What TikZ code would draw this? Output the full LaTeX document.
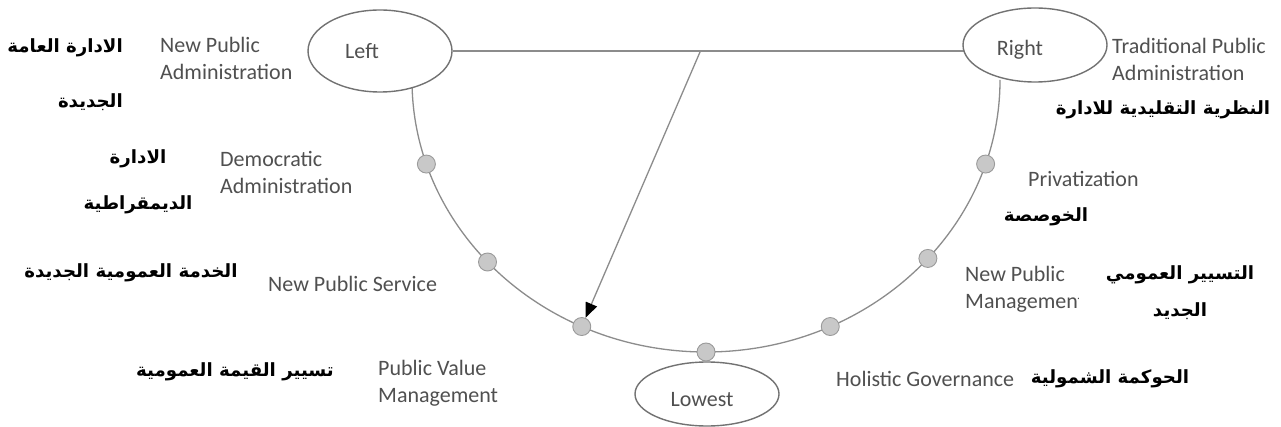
\documentclass[tikz,border=0pt]{standalone}
\usepackage{fontspec}
\setmainfont{Carlito}
\newfontfamily\arabicfont[Script=Arabic]{DejaVu Sans}
\TeXXeTstate=1
\usetikzlibrary{arrows.meta,calc,shapes.geometric,backgrounds}
\definecolor{linegray}{HTML}{8C8C8C}
\definecolor{edgegray}{HTML}{727272}
\definecolor{dotfill}{HTML}{C8C8C8}
\definecolor{dotedge}{HTML}{9A9A9A}
\definecolor{labelgray}{HTML}{505050}
\begin{document}
\begin{tikzpicture}[x=1pt,y=1pt,
  oval/.style={ellipse, draw=edgegray, line width=1.4pt, fill=white,
    minimum width=144pt, minimum height=#1, inner sep=0pt},
  ovaltext/.style={text=labelgray, font=\fontsize{22}{26}\selectfont},
  dot/.style={circle, draw=dotedge, fill=dotfill, line width=0.9pt,
    minimum size=18pt, inner sep=0pt},
  conn/.style={draw=linegray, line width=1.3pt},
  en/.style={text=labelgray, font=\fontsize{22}{27}\selectfont,
    align=left, inner sep=0pt, anchor=north west},
  ar/.style={text=black, inner sep=0pt},
  arfont/.style={font=\arabicfont\bfseries\fontsize{18.2}{#1}\selectfont},
]
\useasboundingbox (0,0) rectangle (1281,-427);

% the three poles
\node[oval=82pt, label={[ovaltext, xshift=-18pt]center:Left}] (L) at (380,-51) {};
\node[oval=74pt, label={[ovaltext, xshift=-15pt, yshift=-5pt]center:Right}] (R) at (1035,-45) {};
\node[oval=64pt, label={[ovaltext, xshift=-5pt, yshift=-6pt]center:Lowest}] (W) at (707,-394) {};

% the U-shaped scale and its stations
\coordinate (C) at (706,-80);
\node[dot] (d1) at ($(C)+(198:294 and 272)$) {};
\node[dot] (d2) at ($(C)+(222:294 and 272)$) {};
\node[dot] (d3) at ($(C)+(245:294 and 272)$) {};
\node[dot] (d4) at ($(C)+(270:294 and 272)$) {};
\node[dot] (d5) at ($(C)+(295:294 and 272)$) {};
\node[dot] (d6) at ($(C)+(319:294 and 272)$) {};
\node[dot] (d7) at ($(C)+(342:294 and 272)$) {};
\coordinate (split) at (700,-52);

\begin{pgfonlayer}{background}
  \fill[white] (0,0) rectangle (1281,-427);
  \draw[conn] (C) ++(180:294 and 272)
    arc[start angle=180, end angle=360, x radius=294, y radius=272];
  \draw[conn] (L.east) -- (L.east -| R.center);
  \draw[conn, -{Triangle[length=15pt, width=12pt, color=black]}] (split) -- (d3);
\end{pgfonlayer}

% English labels
\node[en] (tNPA) at (160,-37) {New Public\\Administration};
\node[en] (tDA) at (220,-151) {Democratic\\Administration};
\node[en] (tNPS) at (268,-276) {New Public Service};
\node[en] (tPVM) at (378,-360) {Public Value\\Management};
\node[en] (tTPA) at (1112,-38) {Traditional Public\\Administration};
\node[en] (tPRI) at (1028,-171) {Privatization};
\begin{scope}
  \clip (950,-250) rectangle (1078,-330);
  \node[en] (tNPM) at (965,-266) {New Public\\Management};
\end{scope}
\node[en] (tHG) at (836,-371) {Holistic Governance};

% Arabic labels
\node[ar, anchor=north east, align=right, arfont=55] (aNPA) at (123,-38)
  {\beginR الادارة  العامة\endR\\\beginR الجديدة\endR};
\node[ar, anchor=north, align=center, arfont=46] (aDA) at (138,-149)
  {\beginR الادارة\endR\\\beginR الديمقراطية\endR};
\node[ar, arfont=22] (aNPS) at (131,-273)
  {\beginR الخدمة العمومية الجديدة\endR};
\node[ar, arfont=22] (aPVM) at (235,-372)
  {\beginR تسيير القيمة العمومية\endR};
\node[ar, arfont=22] (aTPA) at (1163,-110)
  {\beginR النظرية التقليدية للادارة\endR};
\node[ar, arfont=22] (aPRI) at (1046,-217)
  {\beginR الخوصصة\endR};
\node[ar, anchor=north, align=center, arfont=37] (aNPM) at (1180,-265)
  {\beginR التسيير العمومي\endR\\\beginR الجديد\endR};
\node[ar, arfont=22] (aHG) at (1110,-379)
  {\beginR الحوكمة الشمولية\endR};
\end{tikzpicture}
\end{document}
